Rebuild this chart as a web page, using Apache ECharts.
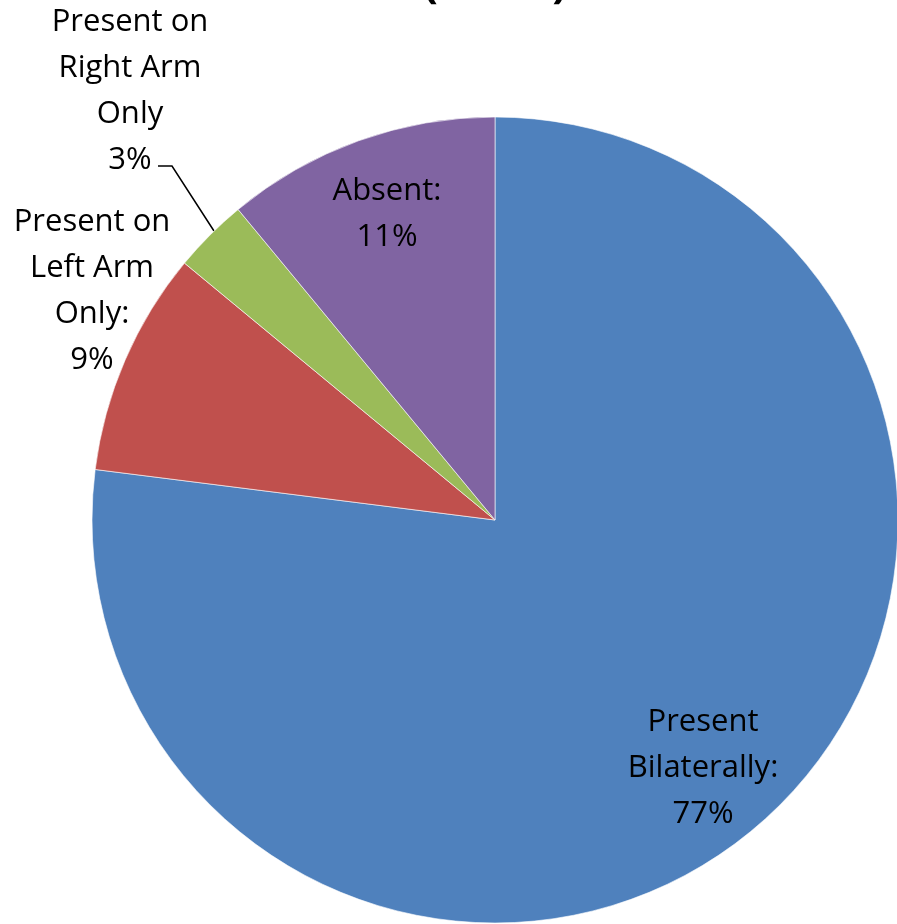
<!DOCTYPE html>
<html>
<head>
<meta charset="utf-8">
<script src="https://cdn.jsdelivr.net/npm/echarts@6/dist/echarts.min.js"></script>
<style>html,body{margin:0;padding:0;background:#fff}#c{width:897px;height:924px}</style>
</head>
<body>
<div id="c"></div>
<script>
const categories = ['Present Bilaterally', 'Present on Left Arm Only', 'Present on Right Arm Only', 'Absent'];
const values = [77, 9, 3, 11];
const labelTexts = ['Present\nBilaterally:\n77%', 'Present on\nLeft Arm\nOnly:\n9%', 'Present on\nRight Arm\nOnly\n3%', 'Absent:\n11%'];
const colors = ['#4F81BD', '#C0504D', '#9BBB59', '#8064A2'];
const titleText = '(          )';

const labelPos = [
  {x: 703, y: 768},
  {x: 92, y: 291},
  {x: 130, y: 91},
  {x: 387, y: 214}
];

const chart = echarts.init(document.getElementById('c'), null, {renderer: 'canvas'});
chart.setOption({
  animation: false,
  graphic: [{
    type: 'text',
    x: 495,
    y: 6,
    style: {
      text: titleText,
      align: 'center',
      verticalAlign: 'bottom',
      fontFamily: 'Open Sans',
      fontWeight: 'bold',
      fontSize: 44,
      fill: '#000'
    }
  }],
  series: [{
    type: 'pie',
    center: [495, 520],
    radius: 403,
    startAngle: 90,
    clockwise: true,
    avoidLabelOverlap: false,
    itemStyle: {borderColor: '#fff', borderWidth: 0.6},
    label: {
      show: true,
      position: 'outside',
      fontFamily: 'Open Sans',
      fontSize: 31,
      lineHeight: 46,
      color: '#000',
      align: 'center',
      formatter: p => labelTexts[p.dataIndex]
    },
    labelLine: {show: false},
    labelLayout: function (p) {
      const pos = labelPos[p.dataIndex];
      const r = {x: pos.x, y: pos.y, align: 'center', verticalAlign: 'middle'};
      if (p.dataIndex === 2) {
        r.labelLinePoints = [[214, 231], [172, 166], [158, 166]];
      }
      return r;
    },
    data: categories.map((c, i) => ({
      name: c,
      value: values[i],
      itemStyle: {color: colors[i]},
      labelLine: i === 2 ? {show: true, lineStyle: {color: '#000', width: 1.5}} : {show: false}
    }))
  }]
});
</script>
</body>
</html>
